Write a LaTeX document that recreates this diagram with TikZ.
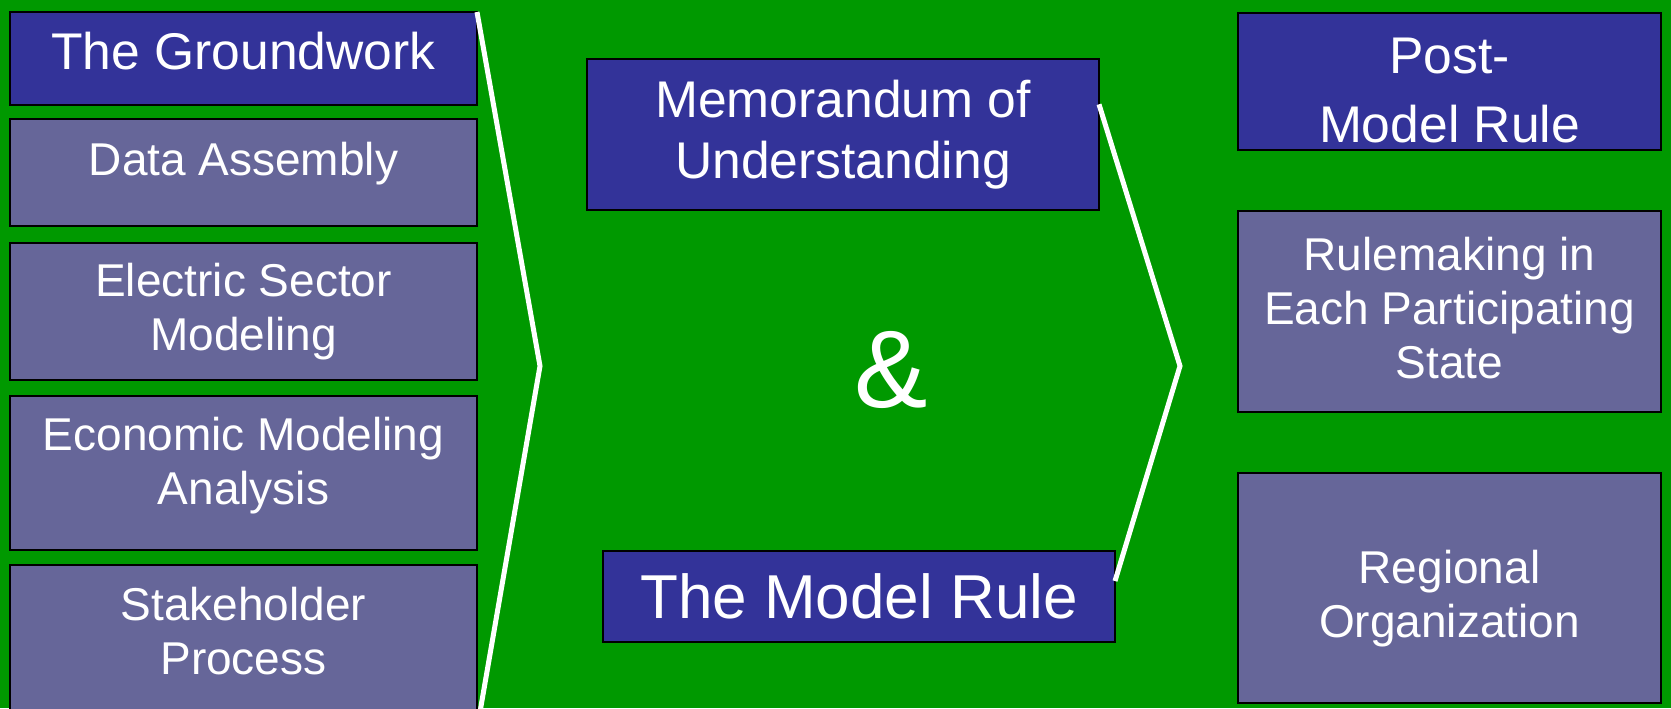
\documentclass[tikz,border=0pt]{standalone}
\usepackage{fontspec}
\setmainfont{Liberation Sans}
\usetikzlibrary{calc,positioning}
\definecolor{slidegreen}{RGB}{0,153,0}
\definecolor{headblue}{RGB}{51,51,153}
\definecolor{stepblue}{RGB}{102,102,153}
% invisible struts to move a label up or down inside its box
\newcommand{\padbelow}[1]{\rule[-#1]{0pt}{#1}}
\newcommand{\padabove}[1]{\rule{0pt}{#1}}
\tikzset{
  headbox/.style={
    rectangle,
    fill=headblue,
    draw=black, line width=0.8pt,
    text=white,
    align=center,
    inner sep=0pt, outer sep=0pt,
    font=\fontsize{25.8}{30.5}\selectfont},
  stepbox/.style={
    headbox,
    fill=stepblue,
    font=\fontsize{23}{27}\selectfont},
  line/.style={draw=white, line width=2.5pt},
}

\begin{document}
\begin{tikzpicture}[x=0.5pt, y=-0.5pt]
  \useasboundingbox (0,0) rectangle (1671,708);
  \clip (0,0) rectangle (1671,708);
  \fill[slidegreen] (0,0) rectangle (1671,708);
  % left column: the groundwork
  \node[headbox, minimum width=233.5pt, minimum height=46.5pt] (ground) at (243.5,58.5) {The Groundwork\padbelow{7.5pt}};
  \node[stepbox, minimum width=233.5pt, minimum height=53.5pt, below=7pt of ground] (data) {Data Assembly\padbelow{13.5pt}};
  \node[stepbox, minimum width=233.5pt, minimum height=68.5pt, below=8.5pt of data] (sector) {Electric Sector\\Modeling};
  \node[stepbox, minimum width=233.5pt, minimum height=77pt, below=8pt of sector] (econ) {Economic Modeling\\Analysis\padbelow{12.3pt}};
  \node[stepbox, minimum width=233.5pt, minimum height=73.5pt, below=7.5pt of econ] (stake) {Stakeholder\\Process\padbelow{7.5pt}};
  % middle: mou & model rule
  \node[headbox, minimum width=256pt, minimum height=75.5pt] (memo) at (843,134.5) {Memorandum of\\Understanding};
  \node[headbox, minimum width=256pt, minimum height=45.5pt, font=\fontsize{31}{36}\selectfont] (rule) at (859,596.5) {The Model Rule};
  \node[text=white, font=\fontsize{55}{60}\selectfont] (amp) at (891,370) {\&};
  % right column: after the model rule
  \node[headbox, minimum width=211.5pt, minimum height=68.5pt, font=\fontsize{25.8}{34.5}\selectfont] (post) at (1449.5,81.5) {\padabove{26.6pt}Post-\\Model Rule};
  \node[stepbox, minimum width=211.5pt, minimum height=100.5pt, below=30.5pt of post] (making) {Rulemaking in\\Each Participating\\State\padbelow{3.5pt}};
  \node[stepbox, minimum width=211.5pt, minimum height=115pt, below=30.5pt of making] (regional) {\padabove{27.5pt}Regional\\Organization};
  % the two chevrons
  \coordinate (lefttip) at (540,366);
  \coordinate (leftfoot) at (480,712);
  \coordinate (righttip) at (1180,366);
  \draw[line] (ground.north east) -- (lefttip) -- (leftfoot);
  \draw[line] ($(memo.north east)!0.3!(memo.south east)$) -- (righttip)
    -- ($(rule.north east)!0.33!(rule.south east)$);
\end{tikzpicture}
\end{document}
